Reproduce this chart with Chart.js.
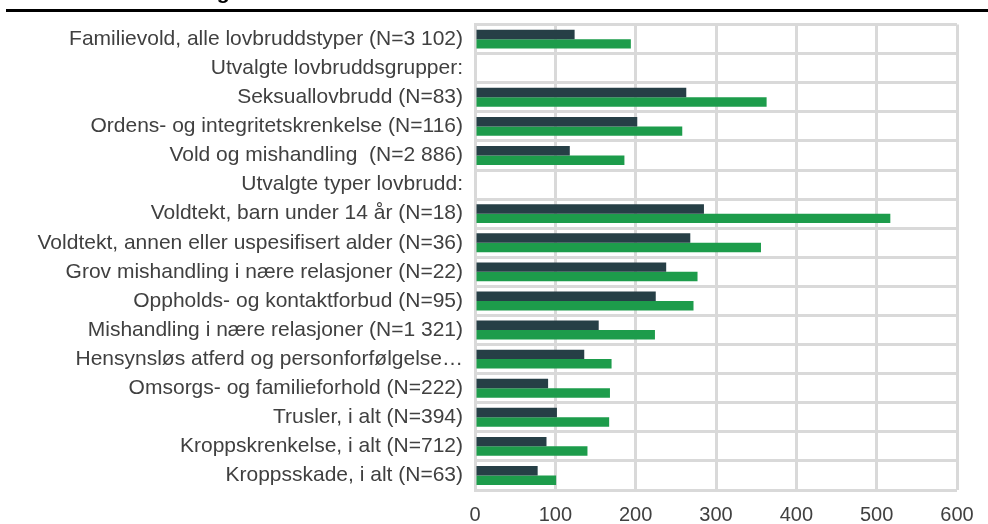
<!DOCTYPE html>
<html>
<head>
    <meta charset="utf-8">
    <script src="https://cdn.jsdelivr.net/npm/chart.js"></script>
    <style>
        html, body { margin: 0; padding: 0; background: #fff; }
        .chart-container { position: relative; width: 988px; height: 524px; }
    </style>
</head>
<body>
    <div class="chart-container">
        <canvas id="daysChart"></canvas>
    </div>
    <script type="text/javascript">
        var categories = [
            'Familievold, alle lovbruddstyper (N=3 102)',
            'Utvalgte lovbruddsgrupper:',
            'Seksuallovbrudd (N=83)',
            'Ordens- og integritetskrenkelse (N=116)',
            'Vold og mishandling  (N=2 886)',
            'Utvalgte typer lovbrudd:',
            'Voldtekt, barn under 14 år (N=18)',
            'Voldtekt, annen eller uspesifisert alder (N=36)',
            'Grov mishandling i nære relasjoner (N=22)',
            'Oppholds- og kontaktforbud (N=95)',
            'Mishandling i nære relasjoner (N=1 321)',
            'Hensynsløs atferd og personforfølgelse…',
            'Omsorgs- og familieforhold (N=222)',
            'Trusler, i alt (N=394)',
            'Kroppskrenkelse, i alt (N=712)',
            'Kroppsskade, i alt (N=63)'
        ];
        var darkValues = [124, null, 263, 202, 118, null, 285, 268, 238, 225, 154, 136, 91, 102, 89, 78];
        var greenValues = [194, null, 363, 258, 186, null, 517, 356, 277, 272, 224, 170, 168, 167, 140, 101];
        var xTicks = [0, 100, 200, 300, 400, 500, 600];

        var gridColor = '#d9d9d9';

        // cropped heading and rule above the plot
        var headerPlugin = {
            id: 'header',
            beforeDraw: function (chart) {
                var ctx = chart.ctx;
                ctx.save();
                ctx.fillStyle = '#fff';
                ctx.fillRect(0, 0, chart.width, chart.height);
                ctx.fillStyle = '#000';
                ctx.font = 'bold 21px Liberation Sans, Arial, sans-serif';
                ctx.textBaseline = 'alphabetic';
                ctx.fillText('Antall dager', 128, -1);
                ctx.fillRect(6, 9, chart.width - 6, 3);
                ctx.restore();
            }
        };

        var ctx = document.getElementById('daysChart').getContext('2d');
        var chart = new Chart(ctx, {
            type: 'bar',
            data: {
                labels: categories,
                datasets: [{
                    data: darkValues,
                    backgroundColor: '#263f46'
                }, {
                    data: greenValues,
                    backgroundColor: '#1d9c4b'
                }]
            },
            options: {
                indexAxis: 'y',
                responsive: true,
                maintainAspectRatio: false,
                animation: false,
                datasets: {
                    bar: { barPercentage: 1, categoryPercentage: 0.65 }
                },
                layout: { padding: { top: 20, right: 31, left: 0, bottom: 0 } },
                plugins: {
                    legend: { display: false },
                    tooltip: { enabled: false }
                },
                scales: {
                    x: {
                        min: 0,
                        max: 600,
                        afterBuildTicks: function (scale) {
                            scale.ticks = xTicks.map(function (v) { return { value: v }; });
                        },
                        afterFit: function (scale) { scale.height = 34; },
                        grid: { color: gridColor, lineWidth: 3, drawTicks: false },
                        border: { display: false },
                        ticks: {
                            color: '#404040',
                            font: { family: 'Liberation Sans, Arial, sans-serif', size: 20 },
                            padding: 13,
                            maxRotation: 0
                        }
                    },
                    y: {
                        afterFit: function (scale) { scale.width = 475; },
                        grid: { color: gridColor, lineWidth: 3, drawTicks: false, offset: true },
                        border: { color: gridColor, width: 3 },
                        ticks: {
                            color: '#404040',
                            font: { family: 'Liberation Sans, Arial, sans-serif', size: 21 },
                            padding: 12,
                            autoSkip: false
                        }
                    }
                }
            },
            plugins: [headerPlugin]
        });
    </script>
</body>
</html>
